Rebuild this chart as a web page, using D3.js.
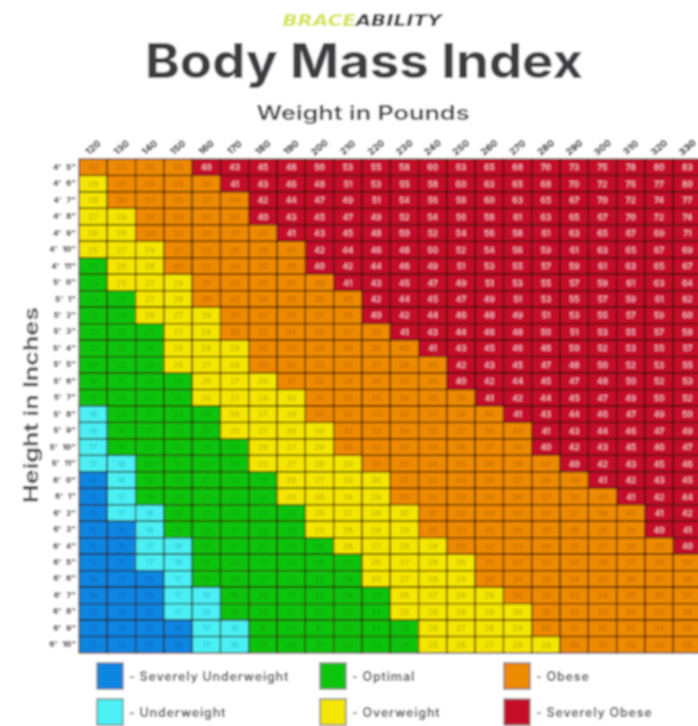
<!DOCTYPE html>
<html><head><meta charset="utf-8">
<script src="https://cdn.jsdelivr.net/npm/d3@7"></script>
<style>html,body{margin:0;padding:0;background:#fff;overflow:hidden}svg{display:block}</style>
</head><body><svg id="c" width="698" height="726"></svg>
<script>
const weights=[120,130,140,150,160,170,180,190,200,210,220,230,240,250,260,270,280,290,300,310,320,330];
const heights=["4' 5\"","4' 6\"","4' 7\"","4' 8\"","4' 9\"","4' 10\"","4' 11\"","5' 0\"","5' 1\"","5' 2\"","5' 3\"","5' 4\"","5' 5\"","5' 6\"","5' 7\"","5' 8\"","5' 9\"","5' 10\"","5' 11\"","6' 0\"","6' 1\"","6' 2\"","6' 3\"","6' 4\"","6' 5\"","6' 6\"","6' 7\"","6' 8\"","6' 9\"","6' 10\""];
const bmi=[
[30.0,32.5,35.0,37.5,40.0,42.5,45.0,47.6,50.1,52.6,55.1,57.6,60.1,62.6,65.1,67.6,70.1,72.6,75.1,77.6,80.1,82.6],
[28.9,31.3,33.8,36.2,38.6,41.0,43.4,45.8,48.2,50.6,53.0,55.4,57.9,60.3,62.7,65.1,67.5,69.9,72.3,74.7,77.1,79.6],
[27.9,30.2,32.5,34.9,37.2,39.5,41.8,44.2,46.5,48.8,51.1,53.5,55.8,58.1,60.4,62.7,65.1,67.4,69.7,72.0,74.4,76.7],
[26.9,29.1,31.4,33.6,35.9,38.1,40.4,42.6,44.8,47.1,49.3,51.6,53.8,56.0,58.3,60.5,62.8,65.0,67.3,69.5,71.7,74.0],
[26.0,28.1,30.3,32.5,34.6,36.8,38.9,41.1,43.3,45.4,47.6,49.8,51.9,54.1,56.3,58.4,60.6,62.7,64.9,67.1,69.2,71.4],
[25.1,27.2,29.3,31.3,33.4,35.5,37.6,39.7,41.8,43.9,46.0,48.1,50.2,52.2,54.3,56.4,58.5,60.6,62.7,64.8,66.9,69.0],
[24.2,26.3,28.3,30.3,32.3,34.3,36.4,38.4,40.4,42.4,44.4,46.4,48.5,50.5,52.5,54.5,56.5,58.6,60.6,62.6,64.6,66.6],
[23.4,25.4,27.3,29.3,31.2,33.2,35.2,37.1,39.1,41.0,43.0,44.9,46.9,48.8,50.8,52.7,54.7,56.6,58.6,60.5,62.5,64.4],
[22.7,24.6,26.5,28.3,30.2,32.1,34.0,35.9,37.8,39.7,41.6,43.5,45.3,47.2,49.1,51.0,52.9,54.8,56.7,58.6,60.5,62.3],
[21.9,23.8,25.6,27.4,29.3,31.1,32.9,34.7,36.6,38.4,40.2,42.1,43.9,45.7,47.5,49.4,51.2,53.0,54.9,56.7,58.5,60.4],
[21.3,23.0,24.8,26.6,28.3,30.1,31.9,33.7,35.4,37.2,39.0,40.7,42.5,44.3,46.0,47.8,49.6,51.4,53.1,54.9,56.7,58.4],
[20.6,22.3,24.0,25.7,27.5,29.2,30.9,32.6,34.3,36.0,37.8,39.5,41.2,42.9,44.6,46.3,48.1,49.8,51.5,53.2,54.9,56.6],
[20.0,21.6,23.3,25.0,26.6,28.3,30.0,31.6,33.3,34.9,36.6,38.3,39.9,41.6,43.3,44.9,46.6,48.3,49.9,51.6,53.2,54.9],
[19.4,21.0,22.6,24.2,25.8,27.4,29.1,30.7,32.3,33.9,35.5,37.1,38.7,40.3,42.0,43.6,45.2,46.8,48.4,50.0,51.6,53.3],
[18.8,20.4,21.9,23.5,25.1,26.6,28.2,29.8,31.3,32.9,34.5,36.0,37.6,39.2,40.7,42.3,43.9,45.4,47.0,48.5,50.1,51.7],
[18.2,19.8,21.3,22.8,24.3,25.8,27.4,28.9,30.4,31.9,33.4,35.0,36.5,38.0,39.5,41.0,42.6,44.1,45.6,47.1,48.6,50.2],
[17.7,19.2,20.7,22.1,23.6,25.1,26.6,28.1,29.5,31.0,32.5,34.0,35.4,36.9,38.4,39.9,41.3,42.8,44.3,45.8,47.3,48.7],
[17.2,18.7,20.1,21.5,23.0,24.4,25.8,27.3,28.7,30.1,31.6,33.0,34.4,35.9,37.3,38.7,40.2,41.6,43.0,44.5,45.9,47.3],
[16.7,18.1,19.5,20.9,22.3,23.7,25.1,26.5,27.9,29.3,30.7,32.1,33.5,34.9,36.3,37.7,39.0,40.4,41.8,43.2,44.6,46.0],
[16.3,17.6,19.0,20.3,21.7,23.1,24.4,25.8,27.1,28.5,29.8,31.2,32.5,33.9,35.3,36.6,38.0,39.3,40.7,42.0,43.4,44.8],
[15.8,17.1,18.5,19.8,21.1,22.4,23.7,25.1,26.4,27.7,29.0,30.3,31.7,33.0,34.3,35.6,36.9,38.3,39.6,40.9,42.2,43.5],
[15.4,16.7,18.0,19.3,20.5,21.8,23.1,24.4,25.7,27.0,28.2,29.5,30.8,32.1,33.4,34.7,35.9,37.2,38.5,39.8,41.1,42.4],
[15.0,16.2,17.5,18.7,20.0,21.2,22.5,23.7,25.0,26.2,27.5,28.7,30.0,31.2,32.5,33.7,35.0,36.2,37.5,38.7,40.0,41.2],
[14.6,15.8,17.0,18.3,19.5,20.7,21.9,23.1,24.3,25.6,26.8,28.0,29.2,30.4,31.6,32.9,34.1,35.3,36.5,37.7,38.9,40.2],
[14.2,15.4,16.6,17.8,19.0,20.2,21.3,22.5,23.7,24.9,26.1,27.3,28.5,29.6,30.8,32.0,33.2,34.4,35.6,36.8,37.9,39.1],
[13.9,15.0,16.2,17.3,18.5,19.6,20.8,22.0,23.1,24.3,25.4,26.6,27.7,28.9,30.0,31.2,32.4,33.5,34.7,35.8,37.0,38.1],
[13.5,14.6,15.8,16.9,18.0,19.1,20.3,21.4,22.5,23.7,24.8,25.9,27.0,28.2,29.3,30.4,31.5,32.7,33.8,34.9,36.0,37.2],
[13.2,14.3,15.4,16.5,17.6,18.7,19.8,20.9,22.0,23.1,24.2,25.3,26.4,27.5,28.6,29.7,30.8,31.9,33.0,34.1,35.1,36.2],
[12.9,13.9,15.0,16.1,17.1,18.2,19.3,20.4,21.4,22.5,23.6,24.6,25.7,26.8,27.9,28.9,30.0,31.1,32.1,33.2,34.3,35.4],
[12.5,13.6,14.6,15.7,16.7,17.8,18.8,19.9,20.9,22.0,23.0,24.0,25.1,26.1,27.2,28.2,29.3,30.3,31.4,32.4,33.5,34.5]
];
const thresholds=[16.5,18.5,25,30,40];
const classNames=["Severely Underweight","Underweight","Optimal","Overweight","Obese","Severely Obese"];
const classColors=["#0b86e2","#4cf0f4","#0cc40c","#f4e600","#ee8a00","#c5102c"];
const classText=["#0a6fc8","#30c8d8","#0aa80a","#c8b400","#c87000","#f8b8c4"];

const svg=d3.select("#c");
const defs=svg.append("defs");
defs.append("filter").attr("id","soft").attr("filterUnits","userSpaceOnUse").attr("x",0).attr("y",0).attr("width",698).attr("height",726)
  .append("feGaussianBlur").attr("stdDeviation",1.0);
const root=svg.append("g").attr("filter","url(#soft)");
root.append("rect").attr("width",698).attr("height",726).attr("fill","#fff");

const sans="Inter,'Open Sans',sans-serif";
const xScale=d3.scaleBand().domain(weights).range([79,701.6]);
const yScale=d3.scaleBand().domain(heights).range([159,653]);
const fill=d3.scaleThreshold().domain(thresholds).range(classColors);
const ink=d3.scaleThreshold().domain(thresholds).range(classText);
const fmt=d3.format(".0f");

const cells=bmi.flatMap((row,r)=>row.map((v,c)=>({h:heights[r],w:weights[c],v})));
const cellG=root.append("g");
cellG.selectAll("rect").data(cells).join("rect")
  .attr("x",d=>xScale(d.w)).attr("y",d=>yScale(d.h))
  .attr("width",xScale.bandwidth()).attr("height",yScale.bandwidth())
  .attr("fill",d=>fill(d.v)).attr("stroke","#2a1200").attr("stroke-opacity",.85).attr("stroke-width",1.2);
cellG.selectAll("text").data(cells).join("text")
  .attr("x",d=>xScale(d.w)+xScale.bandwidth()/2).attr("y",d=>yScale(d.h)+yScale.bandwidth()/2+3)
  .attr("text-anchor","middle").attr("font-family",sans).attr("font-size",8).attr("font-weight",600)
  .attr("fill",d=>ink(d.v)).text(d=>fmt(d.v));

const topAxis=root.append("g").attr("transform","translate(0,157)").call(d3.axisTop(xScale).tickSize(0).tickPadding(0));
topAxis.select(".domain").remove();
topAxis.selectAll("text").attr("font-family",sans).attr("font-size",9.5).attr("font-weight",800).attr("fill","#222")
  .attr("text-anchor","middle").attr("transform","translate(2,-7) rotate(-40)").attr("dy",0);
const leftAxis=root.append("g").attr("transform","translate(76,0)").call(d3.axisLeft(yScale).tickSize(0).tickPadding(0));
leftAxis.select(".domain").remove();
leftAxis.selectAll("text").attr("font-family",sans).attr("font-size",8).attr("font-weight",800).attr("fill","#333").attr("word-spacing",3);

const brand=root.append("text").attr("x",362).attr("y",26).attr("text-anchor","middle")
  .attr("font-family","'DejaVu Sans',sans-serif").attr("font-size",15).attr("font-weight",700).attr("font-style","italic")
  .attr("textLength",159).attr("lengthAdjust","spacingAndGlyphs");
brand.append("tspan").attr("fill","#d4e44a").text("BRACE");
brand.append("tspan").attr("fill","#2e2e2e").text("ABILITY");
root.append("text").attr("x",364).attr("y",78).attr("text-anchor","middle").attr("font-family",sans)
  .attr("font-size",48).attr("font-weight",700).attr("fill","#3d3d3f").attr("textLength",438).attr("lengthAdjust","spacingAndGlyphs").text("Body Mass Index");
root.append("text").attr("x",363).attr("y",120).attr("text-anchor","middle").attr("font-family",sans)
  .attr("font-size",20).attr("font-weight",600).attr("fill","#3d3d3f").attr("textLength",213).attr("lengthAdjust","spacingAndGlyphs").text("Weight in Pounds");
root.append("text").attr("transform","translate(38,405) rotate(-90)").attr("text-anchor","middle").attr("font-family",sans)
  .attr("font-size",20).attr("font-weight",600).attr("fill","#3d3d3f").attr("textLength",196).attr("lengthAdjust","spacingAndGlyphs").text("Height in Inches");

const legendCols=[97,320,504], legendRows=[663,699];
const legendOrder=[[0,0],[0,1],[1,0],[1,1],[2,0],[2,1]];
const lg=root.append("g").selectAll("g").data(classNames).join("g")
  .attr("transform",(d,i)=>`translate(${legendCols[legendOrder[i][0]]},${legendRows[legendOrder[i][1]]})`);
lg.append("rect").attr("width",26).attr("height",26).attr("fill",(d,i)=>classColors[i]).attr("stroke","#555").attr("stroke-opacity",.7).attr("stroke-width",1.5);
lg.append("text").attr("x",32).attr("y",18).attr("font-family",sans).attr("font-size",12.5).attr("font-weight",600).attr("letter-spacing",0.8).attr("fill","#3a3a3a").text(d=>"- "+d);
</script></body></html>
